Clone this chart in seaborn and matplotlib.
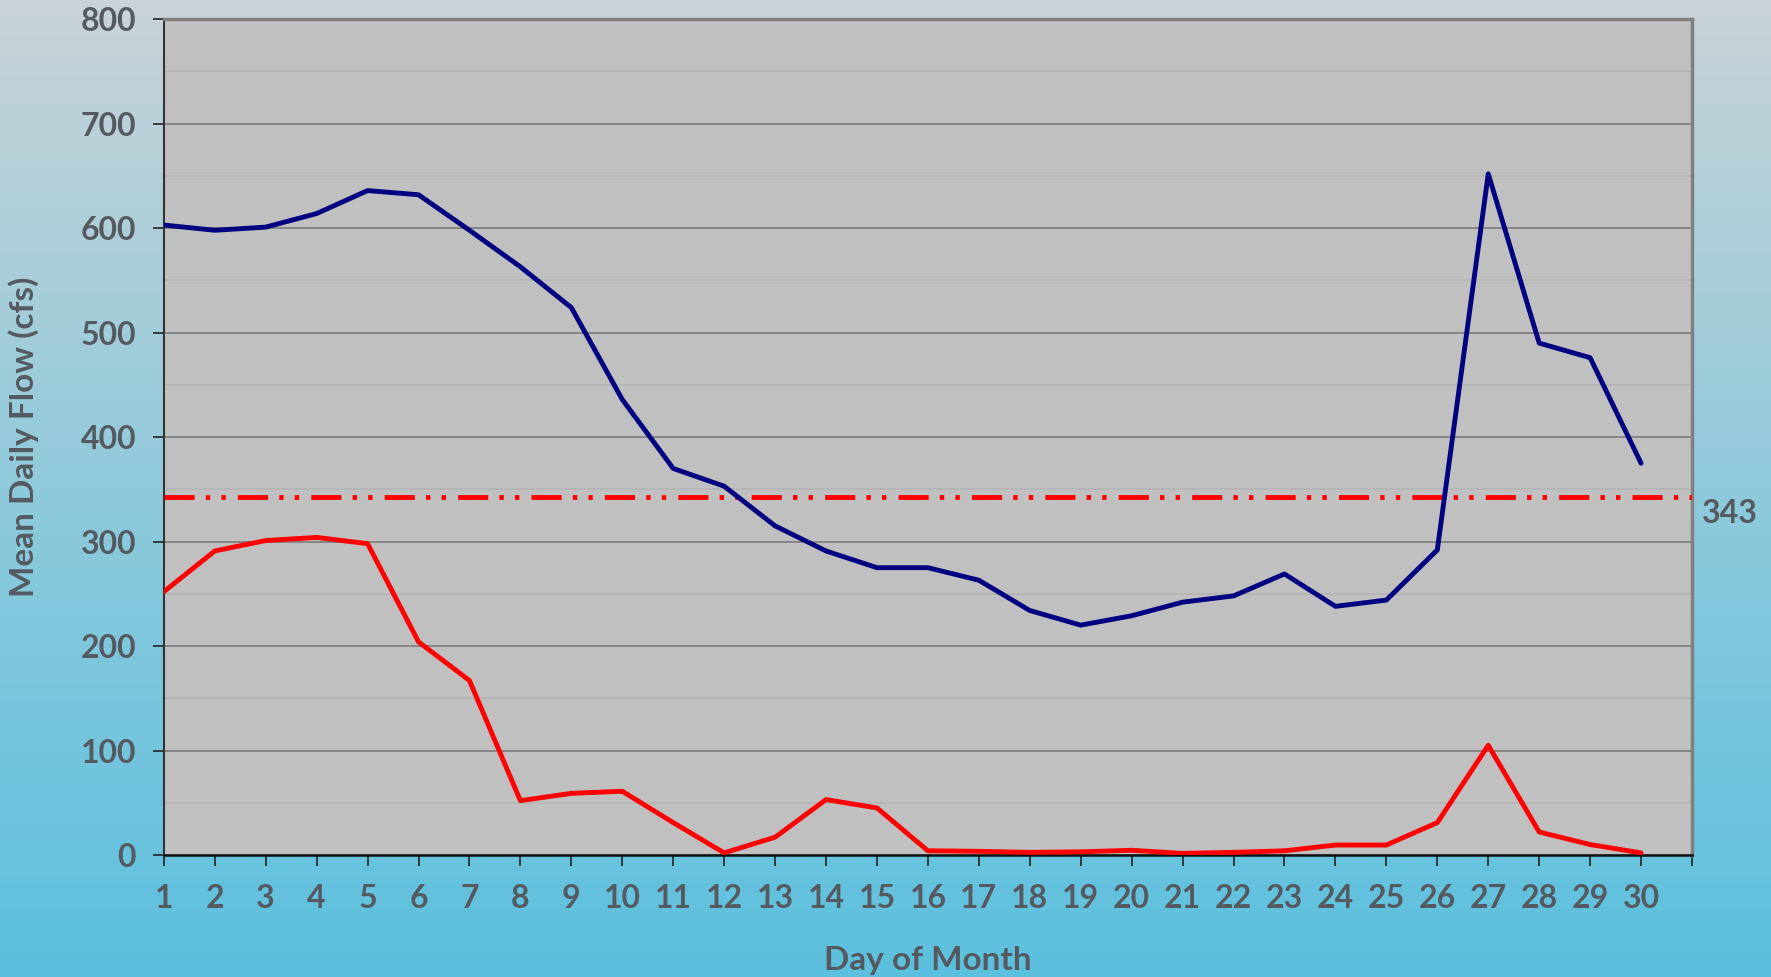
import numpy as np
import pandas as pd
import matplotlib
matplotlib.use("Agg")
import matplotlib.pyplot as plt
import seaborn as sns
from matplotlib.colors import LinearSegmentedColormap

days = list(range(1, 31))
mean_flow = [603, 598, 601, 614, 636, 632, 598, 563, 524, 436,
             370, 353, 315, 291, 275, 275, 263, 234, 220, 229,
             242, 248, 269, 238, 244, 292, 652, 490, 476, 375]
low_flow = [252, 291, 301, 304, 298, 204, 167, 52, 59, 61,
            31, 2, 17, 53, 45, 4, 3.5, 2.5, 3, 4.5,
            1.5, 2.5, 4, 9.5, 9.5, 31, 105, 22, 10, 2]
ref_value = 343
x_tick_labels = [str(d) for d in days]
y_ticks = [0, 100, 200, 300, 400, 500, 600, 700, 800]

df = pd.DataFrame({
    "day": days * 2,
    "flow": mean_flow + low_flow,
    "series": ["mean"] * len(days) + ["low"] * len(days),
})

sns.set_theme(style="white")
plt.rcParams["font.family"] = ["Lato", "DejaVu Sans"]
plt.rcParams["font.weight"] = "bold"

text_color = "#555a61"

fig = plt.figure(figsize=(17.71, 9.77), dpi=100)

# background gradient
bg = fig.add_axes([0, 0, 1, 1], zorder=-10)
cmap = LinearSegmentedColormap.from_list("bg", ["#5bc0de", "#8fcadb", "#c9d3d7"])
grad = np.linspace(0, 1, 256).reshape(-1, 1)
bg.imshow(grad, aspect="auto", cmap=cmap, origin="lower", extent=[0, 1, 0, 1])
bg.axis("off")

ax = fig.add_axes([0.0925, 0.1249, 0.9554 - 0.0925, 0.9803 - 0.1249])
ax.set_facecolor("#c0c0c0")

sns.lineplot(data=df, x="day", y="flow", hue="series",
             palette={"mean": "#000080", "low": "#ff0000"},
             linewidth=3.5, legend=False, ax=ax, zorder=5)

ax.axhline(ref_value, color="#ff0000", linewidth=3.5,
           dashes=(6.2, 2.3, 0.9, 2.3, 0.9, 2.5), zorder=4)
ax.text(31.2, ref_value - 2, str(ref_value), color=text_color, fontsize=23,
        fontweight="bold", va="top", ha="left", clip_on=False)

ax.set_xlim(1, 31)
ax.set_ylim(0, 800)
ax.set_xticks(list(range(1, 32)))
ax.set_xticklabels(x_tick_labels + [""])
ax.set_yticks(y_ticks)
ax.set_yticks(list(range(50, 800, 100)), minor=True)
ax.grid(axis="y", which="major", color="#868686", linewidth=1.4, zorder=1)
ax.grid(axis="y", which="minor", color="#b4b4b4", linewidth=1.2, zorder=1)
ax.set_axisbelow(True)

ax.tick_params(axis="both", which="major", labelsize=23, labelcolor=text_color,
               direction="out", length=8, width=1.2, color="#222222",
               left=True, bottom=True)
ax.tick_params(axis="x", which="major", pad=13)
ax.tick_params(axis="y", which="major", pad=12)
ax.tick_params(axis="y", which="minor", left=False)
for lbl in ax.get_xticklabels() + ax.get_yticklabels():
    lbl.set_fontweight("bold")

ax.spines["left"].set_color("#333333")
ax.spines["left"].set_linewidth(1.5)
ax.spines["bottom"].set_color("#111111")
ax.spines["bottom"].set_linewidth(1.8)
ax.spines["right"].set_color("#808080")
ax.spines["right"].set_linewidth(2.5)
ax.spines["top"].set_color("#808080")
ax.spines["top"].set_linewidth(2.5)

ax.set_xlabel("Day of Month", fontsize=24, fontweight="bold", color=text_color, labelpad=24)
ax.set_ylabel("Mean Daily Flow (cfs)", fontsize=24, fontweight="bold", color=text_color, labelpad=30)

fig.savefig("out.png", dpi=100)
